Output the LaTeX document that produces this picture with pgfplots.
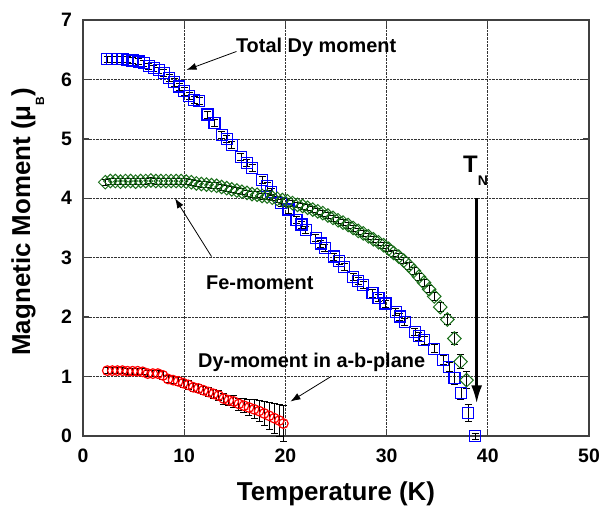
\documentclass[border=0pt]{standalone}
\usepackage{fontspec}
\setmainfont{Liberation Sans}
\usepackage{pgfplots}
\pgfplotsset{compat=1.18}
\usetikzlibrary{arrows.meta}

\definecolor{dkgreen}{RGB}{25,110,25}

\begin{document}
\begin{tikzpicture}
\useasboundingbox (-83bp,-72bp) rectangle (516bp,436bp);
\begin{axis}[
    at={(0,0)}, anchor=south west,
    scale only axis,
    width=506bp, height=416bp,
    xmin=0, xmax=50, ymin=0, ymax=7,
    xtick={0,10,...,50}, ytick={0,1,...,7},
    grid=major,
    grid style={densely dotted, black!80, line width=0.7pt},
    axis line style={black!75, line width=1.3pt},
    tick align=inside, major tick length=6bp,
    tick style={black!75, line width=1.3pt},
    /pgf/number format/assume math mode=true,
    ticklabel style={font=\fontsize{19.5}{20}\selectfont\bfseries},
    yticklabel style={xshift=-7.5bp},
    xticklabel style={yshift=-9bp},
    xlabel={Temperature (K)},
    ylabel={Magnetic Moment (μ\raisebox{-14bp}{\fontsize{12}{12}\selectfont B})},
    label style={font=\fontsize{26}{28}\selectfont\bfseries},
    xlabel style={at={(axis description cs:0.5,0)}, anchor=base, yshift=-64bp, inner sep=0pt},
    ylabel style={at={(axis description cs:-0.1047,0.515)}, anchor=base, inner sep=0pt},
    error bars/y dir=both, error bars/y explicit,
    error bars/error bar style={black, line width=0.7pt},
    error bars/error mark options={rotate=90, black, line width=0.7pt, mark size=3.5bp},
    clip=false,
]

% Total Dy moment
\addplot[only marks, blue, mark=square, mark size=5.5bp, mark options={line width=1.2pt}]
  table[x=T, y=M, y error=E] {
T M E
2.4 6.34 0.05
2.9 6.34 0.05
3.4 6.34 0.05
3.9 6.34 0.05
4.4 6.33 0.05
4.9 6.32 0.05
5.5 6.30 0.05
6.0 6.27 0.05
6.5 6.22 0.05
7.0 6.19 0.05
7.5 6.16 0.05
8.0 6.11 0.06
8.5 6.03 0.06
9.0 5.95 0.06
9.5 5.88 0.06
10.0 5.80 0.06
10.5 5.72 0.06
11.0 5.66 0.06
11.5 5.64 0.06
12.3 5.41 0.06
13.0 5.27 0.06
13.7 5.07 0.06
14.2 5.00 0.06
14.7 4.90 0.06
15.6 4.70 0.06
16.2 4.60 0.06
16.7 4.51 0.06
17.7 4.31 0.06
18.2 4.20 0.06
18.6 4.11 0.06
19.6 3.92 0.06
20.3 3.81 0.06
21.1 3.64 0.06
21.6 3.56 0.06
22.0 3.47 0.06
23.0 3.33 0.06
23.5 3.24 0.06
23.9 3.16 0.06
24.8 3.02 0.06
25.3 2.94 0.06
25.8 2.85 0.06
26.7 2.68 0.06
27.2 2.61 0.06
27.7 2.54 0.06
28.6 2.40 0.06
29.2 2.32 0.06
29.9 2.23 0.06
30.9 2.09 0.06
31.3 2.01 0.06
31.8 1.92 0.06
32.8 1.75 0.06
33.2 1.68 0.07
33.7 1.61 0.07
34.7 1.47 0.07
35.6 1.28 0.08
36.2 1.16 0.08
36.7 0.97 0.10
37.35 0.72 0.10
38.05 0.39 0.15
38.75 0.00 0.05
};

% Fe moment
\addplot[only marks, dkgreen, mark=square, mark size=4.8bp, mark options={rotate=45, line width=1.0pt}]
  table[x=T, y=M, y error=E] {
T M E
2.2 4.27 0.05
2.7 4.29 0.05
3.2 4.29 0.05
3.7 4.28 0.05
4.2 4.29 0.05
4.7 4.29 0.05
5.2 4.28 0.05
5.7 4.29 0.05
6.2 4.29 0.05
6.7 4.30 0.05
7.2 4.29 0.05
7.7 4.29 0.05
8.2 4.29 0.05
8.7 4.29 0.05
9.2 4.29 0.05
9.7 4.29 0.05
10.2 4.28 0.05
10.7 4.27 0.05
11.2 4.25 0.05
11.7 4.24 0.05
12.2 4.23 0.05
12.7 4.22 0.05
13.2 4.21 0.05
13.7 4.19 0.05
14.2 4.17 0.05
14.7 4.15 0.05
15.2 4.13 0.05
15.7 4.11 0.05
16.2 4.09 0.05
16.7 4.07 0.05
17.2 4.06 0.05
17.7 4.04 0.05
18.2 4.03 0.05
18.7 4.01 0.05
19.2 3.99 0.05
19.7 3.97 0.05
20.2 3.95 0.05
20.7 3.92 0.05
21.2 3.89 0.05
21.7 3.87 0.05
22.2 3.84 0.05
22.7 3.81 0.05
23.2 3.78 0.05
23.7 3.75 0.05
24.2 3.71 0.05
24.7 3.67 0.05
25.2 3.63 0.05
25.7 3.59 0.05
26.2 3.55 0.05
26.7 3.50 0.05
27.2 3.45 0.05
27.7 3.41 0.05
28.2 3.36 0.05
28.7 3.31 0.05
29.2 3.26 0.05
29.7 3.21 0.05
30.2 3.15 0.05
30.7 3.08 0.05
31.2 3.02 0.05
31.7 2.95 0.05
32.2 2.87 0.06
32.7 2.78 0.06
33.2 2.68 0.06
33.7 2.58 0.06
34.2 2.47 0.06
34.7 2.35 0.07
35.3 2.17 0.08
36.0 1.96 0.08
36.7 1.64 0.10
37.3 1.25 0.12
37.9 0.94 0.14
};

% Dy moment in a-b plane
\addplot[only marks, red, mark=o, mark size=4.8bp, mark options={line width=1.2pt}]
  table[x=T, y=M, y error=E] {
T M E
2.4 1.10 0.05
2.9 1.10 0.05
3.4 1.10 0.05
3.9 1.10 0.05
4.4 1.09 0.05
4.9 1.09 0.05
5.4 1.09 0.05
5.9 1.08 0.05
6.4 1.05 0.05
6.9 1.05 0.05
7.4 1.05 0.05
7.9 1.02 0.06
8.4 0.96 0.06
8.9 0.94 0.06
9.4 0.92 0.06
9.9 0.89 0.07
10.4 0.86 0.07
10.9 0.82 0.07
11.4 0.80 0.07
11.9 0.77 0.07
12.4 0.74 0.08
12.9 0.71 0.08
13.4 0.68 0.08
13.9 0.63 0.09
14.4 0.60 0.09
14.9 0.58 0.10
15.4 0.54 0.10
15.9 0.51 0.12
16.4 0.48 0.14
16.9 0.45 0.16
17.4 0.42 0.18
17.9 0.38 0.20
18.4 0.34 0.22
18.9 0.30 0.25
19.4 0.26 0.27
19.8 0.21 0.30
};

% annotations
\tikzset{ann/.style={font=\fontsize{20}{22}\selectfont\bfseries, inner sep=0pt, anchor=base west},
         arr/.style={-{Latex[length=10bp,width=7bp]}, line width=0.8pt}}
\node[ann] at (axis cs:15.1,6.46) {Total Dy moment};
\draw[arr] (axis cs:15.16,6.47) -- (axis cs:10.23,6.16);
\node[ann] at (axis cs:12.15,2.46) {Fe-moment};
\draw[arr] (axis cs:12.7,3.02) -- (axis cs:9.09,4.0);
\node[ann] at (axis cs:11.36,1.16) {Dy-moment in a-b-plane};
\draw[arr] (axis cs:24.5,1.0) -- (axis cs:20.5,0.58);
\node[inner sep=0pt, anchor=base west, font=\fontsize{24}{26}\selectfont\bfseries]
  at (axis cs:37.55,4.44) {T\raisebox{-13bp}{\fontsize{14}{14}\selectfont N}};
\draw[-{Latex[length=18bp,width=11bp]}, line width=2.4pt] (axis cs:38.9,4.0) -- (axis cs:38.9,0.55);
\end{axis}
\end{tikzpicture}
\end{document}
